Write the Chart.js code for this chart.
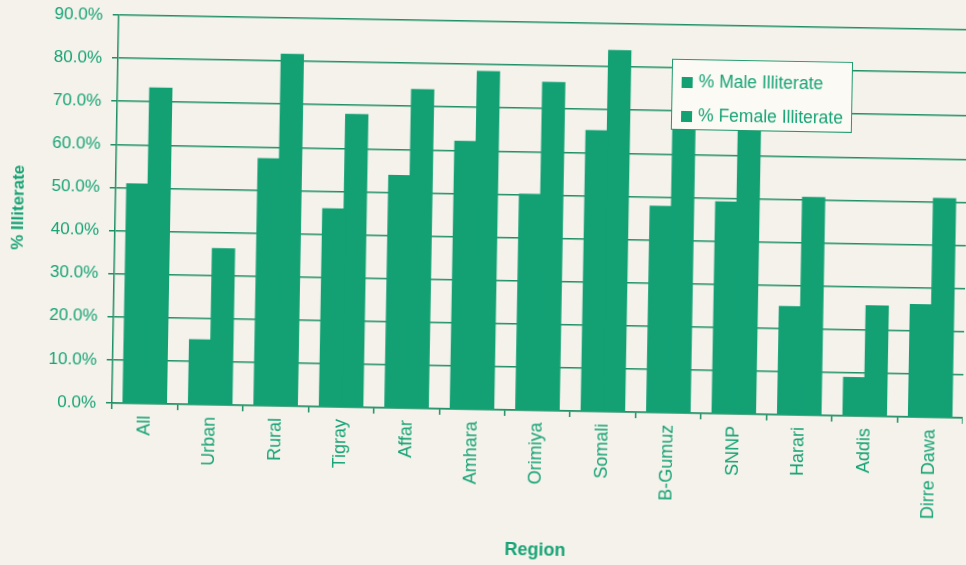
<!DOCTYPE html>
<html>
<head>
<meta charset="utf-8">
<script src="https://cdn.jsdelivr.net/npm/chart.js@4.4.1/dist/chart.umd.min.js"></script>
<style>
  body { margin: 0; background: #f4f2ea; overflow: hidden; }
  /* the scanned original sits about one degree off square */
  #wrap { position: relative; width: 966px; height: 565px; transform: rotate(1deg); transform-origin: 112px 230px; }
  #legend {
    position: absolute; left: 669px; top: 49px; width: 179px; height: 69px;
    background: #fbfaf4; border: 1.5px solid #1f9a6e;
    font-family: "Liberation Sans", Arial, sans-serif; font-size: 17.5px; color: #17a377;
  }
  #legend div { position: absolute; left: 9px; white-space: nowrap; }
  #legend span { display: inline-block; width: 11px; height: 11px; background: #13a174; margin-right: 6px; vertical-align: -1px; }
</style>
</head>
<body>
<div id="wrap">
  <canvas id="chart" width="966" height="565"></canvas>
  <div id="legend">
    <div style="top:11px"><span></span>% Male Illiterate</div>
    <div style="top:45px"><span></span>% Female Illiterate</div>
  </div>
</div>
<script>
const regions = ["All", "Urban", "Rural", "Tigray", "Affar", "Amhara", "Orimiya", "Somali", "B-Gumuz", "SNNP", "Harari", "Addis", "Dirre Dawa"];
const maleIlliterate = [50.8, 14.9, 57.2, 45.8, 53.8, 62.0, 50.0, 65.0, 47.7, 49.0, 25.0, 8.8, 26.0];
const femaleIlliterate = [73.1, 36.1, 81.5, 67.8, 73.8, 78.3, 76.0, 83.7, 80.0, 72.0, 50.4, 25.5, 50.7];
const yMax = 90;
const yStep = 10;

const green = "#17a377";
const barGreen = "#13a174";
const lineGreen = "#1f8f66";
const font = "'Liberation Sans', Arial, sans-serif";

const ctx = document.getElementById("chart").getContext("2d");

new Chart(ctx, {
    type: "bar",
    data: {
        labels: regions,
        datasets: [{
            label: "% Male Illiterate",
            data: maleIlliterate,
            backgroundColor: barGreen
        }, {
            label: "% Female Illiterate",
            data: femaleIlliterate,
            backgroundColor: barGreen
        }]
    },
    options: {
        responsive: false,
        animation: false,
        layout: { padding: { top: 0, right: 0, bottom: 4, left: 0 } },
        datasets: {
            bar: { barPercentage: 1.0, categoryPercentage: 0.65, borderWidth: 0, inflateAmount: 1 }
        },
        plugins: {
            legend: { display: false },
            tooltip: { enabled: false }
        },
        scales: {
            x: {
                grid: { drawOnChartArea: false, drawTicks: true, tickLength: 6, color: lineGreen, lineWidth: 1.5 },
                border: { color: lineGreen, width: 1.5 },
                ticks: {
                    autoSkip: false, minRotation: 90, maxRotation: 90, padding: 6,
                    color: green, font: { family: font, size: 18 }
                },
                title: {
                    display: true, text: "Region", color: green,
                    font: { family: font, size: 18, weight: "bold" }, padding: { top: 0, bottom: 7 }
                },
                afterFit: (scale) => { scale.height = 158; }
            },
            y: {
                min: 0,
                max: yMax,
                grid: { color: lineGreen, lineWidth: 1.5, tickLength: 6 },
                border: { color: lineGreen, width: 1.5 },
                ticks: {
                    stepSize: yStep, padding: 10, color: green,
                    font: { family: font, size: 17 },
                    callback: (v) => v.toFixed(1) + "%"
                },
                title: {
                    display: true, text: "% Illiterate", color: green,
                    font: { family: font, size: 17, weight: "bold" }, padding: { top: 8, bottom: 0 }
                },
                afterFit: (scale) => {
                    scale.width = 115;
                    scale.paddingTop = 15;
                }
            }
        }
    }
});
</script>
</body>
</html>
